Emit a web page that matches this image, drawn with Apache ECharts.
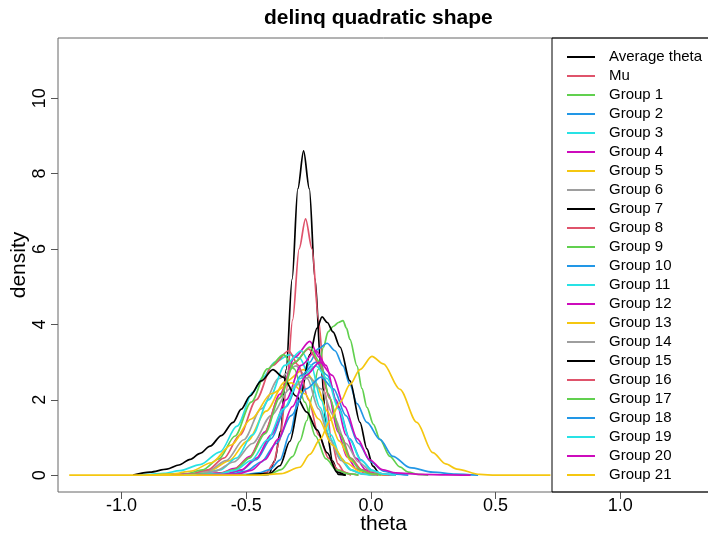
<!doctype html>
<html>
<head>
<meta charset="UTF-8">
<title>delinq quadratic shape</title>
<script src="https://cdn.jsdelivr.net/npm/echarts/dist/echarts.min.js"></script>
<style>
  html, body { margin: 0; padding: 0; background: #fff; }
  #chart { width: 708px; height: 536px; }
</style>
</head>
<body>
<div id="chart"></div>
<script type="text/javascript">
// density curves, [theta, density]
var avgTheta = [[-0.45,0],[-0.41,0.02],[-0.386,0.38],[-0.363,1.16],[-0.34,2.8],[-0.316,5.2],[-0.293,7.6],[-0.27,8.6],[-0.247,7.6],[-0.224,5.2],[-0.2,2.8],[-0.177,1.16],[-0.154,0.38],[-0.13,0.02],[-0.1,0]];
var mu = [[-0.45,0],[-0.418,0.075],[-0.392,0.3],[-0.366,0.92],[-0.34,2.2],[-0.314,4.12],[-0.288,6.0],[-0.262,6.8],[-0.236,6.0],[-0.21,4.12],[-0.184,2.2],[-0.158,0.92],[-0.132,0.3],[-0.106,0.075],[-0.08,0]];
var group1 = [[-0.45,0],[-0.405,0.03],[-0.36,0.15],[-0.313,0.5],[-0.285,0.9],[-0.257,1.45],[-0.235,2.1],[-0.212,2.8],[-0.19,3.4],[-0.172,3.8],[-0.15,3.95],[-0.13,4.05],[-0.112,4.1],[-0.098,3.9],[-0.084,3.6],[-0.056,2.9],[-0.036,2.3],[-0.016,1.8],[0.01,1.35],[0.036,0.95],[0.076,0.5],[0.116,0.22],[0.15,0.08],[0.19,0.02],[0.23,0]];
var group2 = [[-0.6,0],[-0.5,0.02],[-0.45,0.06],[-0.405,0.15],[-0.365,0.4],[-0.325,1.1],[-0.285,2.2],[-0.245,3.0],[-0.212,3.35],[-0.176,3.5],[-0.144,3.3],[-0.112,2.9],[-0.084,2.4],[-0.056,1.9],[-0.016,1.4],[0.036,0.95],[0.088,0.5],[0.156,0.2],[0.248,0.08],[0.34,0.03],[0.43,0]];
var group3 = [[-0.95,0],[-0.898,0.02],[-0.83,0.05],[-0.766,0.12],[-0.685,0.28],[-0.605,0.62],[-0.537,1.3],[-0.473,2.2],[-0.433,2.6],[-0.385,3.0],[-0.325,3.2],[-0.285,3.1],[-0.245,2.6],[-0.204,1.8],[-0.164,1.0],[-0.124,0.45],[-0.084,0.15],[-0.036,0.03],[0.016,0]];
var group4 = [[-0.8,0],[-0.7,0.02],[-0.605,0.06],[-0.545,0.18],[-0.485,0.5],[-0.425,1.15],[-0.365,2.15],[-0.305,3.13],[-0.245,3.55],[-0.2075,3.13],[-0.17,2.15],[-0.1325,1.15],[-0.095,0.48],[-0.0575,0.16],[-0.02,0.04],[0.03,0]];
var group5 = [[-0.85,0],[-0.72,0.03],[-0.645,0.12],[-0.57,0.38],[-0.495,0.91],[-0.42,1.7],[-0.345,2.47],[-0.27,2.8],[-0.2225,2.47],[-0.175,1.7],[-0.1275,0.91],[-0.08,0.38],[-0.0325,0.12],[0.015,0.03],[0.07,0]];
var group6 = [[-0.85,0],[-0.72,0.03],[-0.65,0.13],[-0.58,0.39],[-0.51,0.94],[-0.44,1.76],[-0.37,2.56],[-0.3,2.9],[-0.255,2.56],[-0.21,1.76],[-0.165,0.94],[-0.12,0.39],[-0.075,0.13],[-0.03,0.03],[0.02,0]];
var group7 = [[-0.5,0],[-0.405,0.05],[-0.365,0.25],[-0.325,0.9],[-0.285,2.0],[-0.245,3.2],[-0.216,3.9],[-0.196,4.2],[-0.175,4.05],[-0.152,3.8],[-0.124,3.4],[-0.084,2.5],[-0.044,1.4],[-0.016,0.7],[0.008,0.24],[0.036,0.03],[0.076,0]];
var group8 = [[-0.85,0],[-0.72,0.04],[-0.655,0.14],[-0.59,0.45],[-0.525,1.07],[-0.46,2.0],[-0.395,2.91],[-0.33,3.3],[-0.29,2.91],[-0.25,2.0],[-0.21,1.07],[-0.17,0.45],[-0.13,0.14],[-0.09,0.04],[-0.05,0]];
var group9 = [[-0.88,0],[-0.74,0.04],[-0.675,0.14],[-0.61,0.43],[-0.545,1.04],[-0.48,1.94],[-0.415,2.82],[-0.35,3.2],[-0.3075,2.82],[-0.265,1.94],[-0.2225,1.04],[-0.18,0.43],[-0.1375,0.14],[-0.095,0.04],[-0.05,0]];
var group10 = [[-0.7,0],[-0.58,0.03],[-0.52,0.13],[-0.46,0.41],[-0.4,0.97],[-0.34,1.82],[-0.28,2.65],[-0.22,3.0],[-0.175,2.65],[-0.13,1.82],[-0.085,0.97],[-0.04,0.41],[0.005,0.13],[0.05,0.03],[0.1,0]];
var group11 = [[-0.8,0],[-0.67,0.04],[-0.605,0.14],[-0.54,0.45],[-0.475,1.07],[-0.41,2.0],[-0.345,2.91],[-0.28,3.3],[-0.24,2.91],[-0.2,2.0],[-0.16,1.07],[-0.12,0.45],[-0.08,0.14],[-0.04,0.04],[0.0,0]];
var group12 = [[-0.85,0],[-0.58,0.04],[-0.52,0.14],[-0.46,0.45],[-0.4,1.07],[-0.34,2.0],[-0.28,2.91],[-0.22,3.3],[-0.18,2.91],[-0.14,2.0],[-0.1,1.07],[-0.06,0.45],[-0.02,0.14],[0.02,0.04],[0.07,0]];
var group13 = [[-0.9,0],[-0.8,0.03],[-0.72,0.11],[-0.64,0.33],[-0.56,0.8],[-0.48,1.49],[-0.4,2.16],[-0.32,2.45],[-0.265,2.16],[-0.21,1.49],[-0.155,0.8],[-0.1,0.33],[-0.045,0.11],[0.01,0.03],[0.07,0]];
var group14 = [[-0.8,0],[-0.7,0.03],[-0.625,0.11],[-0.55,0.35],[-0.475,0.84],[-0.4,1.58],[-0.325,2.29],[-0.25,2.6],[-0.2,2.29],[-0.15,1.58],[-0.1,0.84],[-0.05,0.35],[0.0,0.11],[0.05,0.03],[0.1,0]];
var group15 = [[-0.954,0],[-0.886,0.08],[-0.818,0.16],[-0.77,0.27],[-0.725,0.42],[-0.685,0.58],[-0.645,0.77],[-0.6,1.05],[-0.553,1.4],[-0.52,1.75],[-0.485,2.1],[-0.44,2.5],[-0.393,2.8],[-0.353,2.6],[-0.3,2.1],[-0.257,1.67],[-0.216,1.2],[-0.176,0.6],[-0.136,0.08],[-0.104,0]];
var group16 = [[-0.8,0],[-0.61,0.04],[-0.55,0.15],[-0.49,0.45],[-0.43,1.09],[-0.37,2.03],[-0.31,2.96],[-0.25,3.35],[-0.2075,2.96],[-0.165,2.03],[-0.1225,1.09],[-0.08,0.45],[-0.0375,0.15],[0.005,0.05],[0.06,0.01],[0.1,0]];
var group17 = [[-0.75,0],[-0.605,0.04],[-0.545,0.15],[-0.485,0.46],[-0.425,1.1],[-0.365,2.06],[-0.305,3.0],[-0.245,3.4],[-0.205,3.0],[-0.165,2.06],[-0.125,1.1],[-0.085,0.46],[-0.045,0.15],[-0.005,0.04],[0.04,0]];
var group18 = [[-0.7,0],[-0.56,0.03],[-0.5,0.11],[-0.44,0.35],[-0.38,0.84],[-0.32,1.58],[-0.26,2.29],[-0.2,2.6],[-0.15,2.29],[-0.1,1.58],[-0.05,0.84],[0.0,0.35],[0.05,0.11],[0.1,0.03],[0.15,0]];
var group19 = [[-0.75,0],[-0.61,0.03],[-0.545,0.13],[-0.48,0.39],[-0.415,0.94],[-0.35,1.76],[-0.285,2.56],[-0.22,2.9],[-0.175,2.56],[-0.13,1.76],[-0.085,0.94],[-0.04,0.39],[0.005,0.13],[0.05,0.03],[0.1,0]];
var group20 = [[-0.7,0],[-0.535,0.03],[-0.48,0.13],[-0.425,0.41],[-0.37,0.97],[-0.315,1.82],[-0.26,2.65],[-0.205,3.0],[-0.155,2.65],[-0.105,1.82],[-0.055,0.97],[-0.005,0.41],[0.045,0.15],[0.1,0.06],[0.2,0.02],[0.3,0.01],[0.4,0]];
var group21 = [[-1.21,0],[-0.45,0],[-0.36,0.04],[-0.285,0.21],[-0.245,0.55],[-0.204,0.95],[-0.164,1.45],[-0.124,1.93],[-0.084,2.4],[-0.044,2.8],[0.004,3.15],[0.05,2.95],[0.116,2.28],[0.184,1.4],[0.248,0.6],[0.3,0.3],[0.345,0.16],[0.437,0.02],[0.5,0],[0.72,0]];

var seriesNames = ['Average theta', 'Mu', 'Group 1', 'Group 2', 'Group 3', 'Group 4', 'Group 5', 'Group 6',
  'Group 7', 'Group 8', 'Group 9', 'Group 10', 'Group 11', 'Group 12', 'Group 13', 'Group 14',
  'Group 15', 'Group 16', 'Group 17', 'Group 18', 'Group 19', 'Group 20', 'Group 21'];
var curves = [avgTheta, mu, group1, group2, group3, group4, group5, group6, group7, group8, group9,
  group10, group11, group12, group13, group14, group15, group16, group17, group18, group19, group20, group21];
// R 4.x default palette, recycled
var palette = ['#000000', '#DF536B', '#61D04F', '#2297E6', '#28E2E5', '#CD0BBC', '#F5C710', '#9E9E9E'];
var xTicks = [-1, -0.5, 0, 0.5, 1];
var yTicks = [0, 2, 4, 6, 8, 10];

var font = 'Liberation Sans, Arial, sans-serif';

var series = [];
for (var i = 0; i < curves.length; i++) {
  series.push({
    name: seriesNames[i],
    type: 'line',
    data: curves[i],
    symbol: 'none',
    smooth: 0.3,
    smoothMonotone: 'x',
    color: palette[i % palette.length],
    lineStyle: { width: 1.7 }
  });
}

var chart = echarts.init(document.getElementById('chart'));
chart.setOption({
  animation: false,
  backgroundColor: '#fff',
  title: {
    text: 'delinq quadratic shape',
    left: 264,
    top: 8,
    padding: 0,
    textStyle: { fontFamily: font, fontSize: 21, fontWeight: 'bold', color: '#000' }
  },
  legend: {
    orient: 'vertical',
    left: 552,
    top: 38,
    padding: [11, 30, 9, 15],
    borderColor: '#000',
    borderWidth: 1,
    itemGap: 3,
    itemWidth: 28,
    itemHeight: 2,
    itemTextGap: 14,
    icon: 'rect',
    selectedMode: false,
    data: seriesNames,
    textStyle: { fontFamily: font, fontSize: 15, lineHeight: 16, color: '#000', padding: [0, 0, 0, 9] }
  },
  grid: {
    left: 58,
    right: -1,
    top: 38,
    bottom: 44,
    containLabel: false,
    outerBoundsMode: 'none',
    show: true,
    borderColor: '#666',
    borderWidth: 1
  },
  xAxis: {
    type: 'value',
    min: -1.255,
    max: 1.356,
    name: 'theta',
    nameLocation: 'middle',
    nameGap: 22,
    nameMoveOverlap: false,
    nameTextStyle: { fontFamily: font, fontSize: 21, color: '#000' },
    axisLine: { show: false, onZero: false },
    axisTick: { show: true, length: 7, customValues: xTicks, lineStyle: { color: '#555' } },
    axisLabel: {
      customValues: xTicks,
      margin: 5,
      fontFamily: font,
      fontSize: 18,
      color: '#000',
      formatter: function (v) { return v.toFixed(1); }
    },
    splitLine: { show: false }
  },
  yAxis: {
    type: 'value',
    min: -0.446,
    max: 11.596,
    name: 'density',
    nameLocation: 'middle',
    nameGap: 28,
    nameMoveOverlap: false,
    nameTextStyle: { fontFamily: font, fontSize: 21, color: '#000' },
    axisLine: { show: false, onZero: false },
    axisTick: { show: true, length: 7, customValues: yTicks, lineStyle: { color: '#555' } },
    axisLabel: {
      customValues: yTicks,
      rotate: 90,
      margin: 9,
      fontFamily: font,
      fontSize: 18,
      color: '#000'
    },
    splitLine: { show: false }
  },
  series: series
});
</script>
</body>
</html>
